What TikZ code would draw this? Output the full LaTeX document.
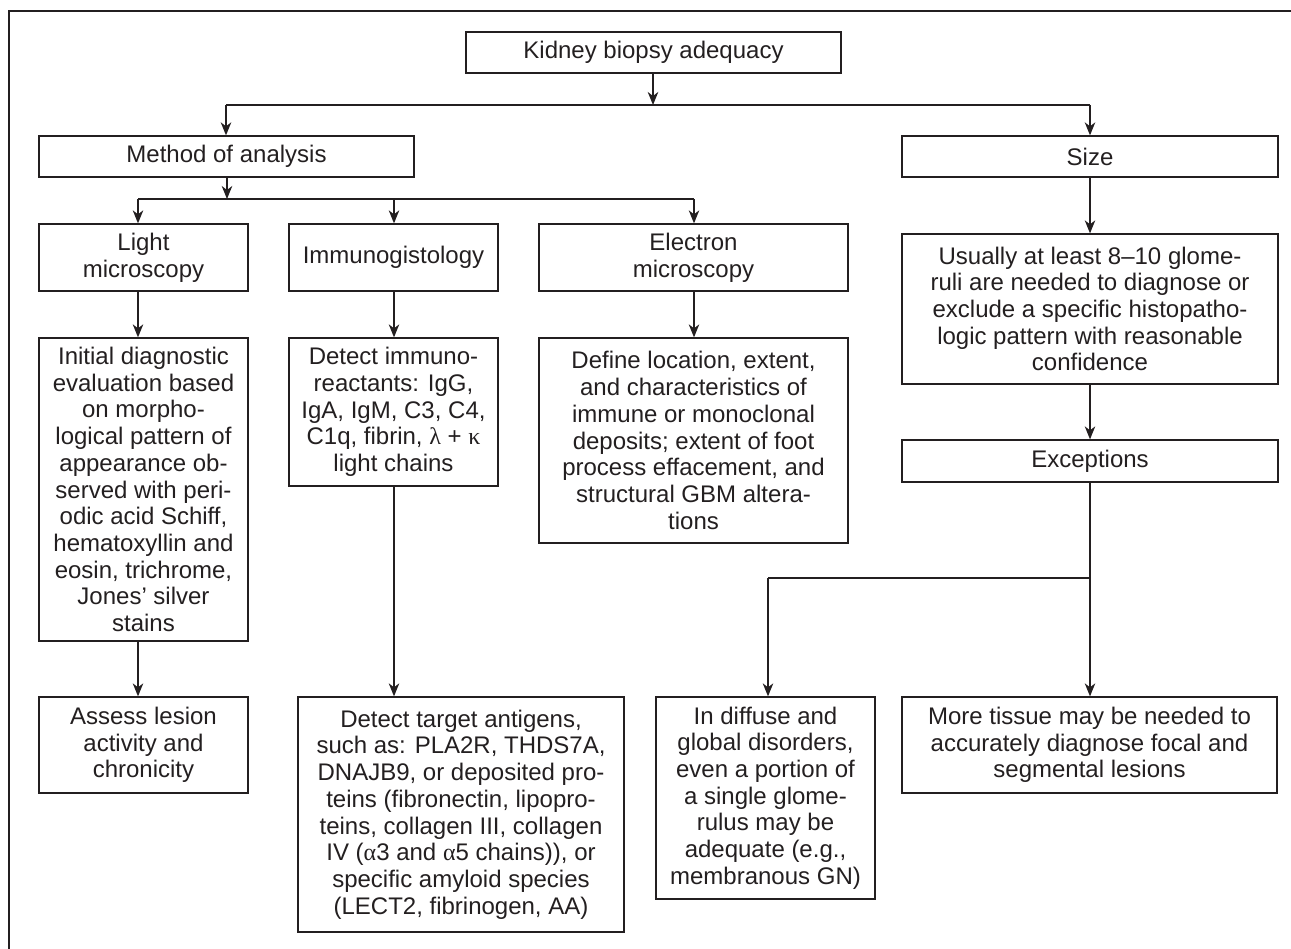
\documentclass[tikz,border=0pt]{standalone}
\usepackage{fontspec}
\setmainfont{Liberation Sans}
\newfontfamily\grk{Liberation Serif}
\usetikzlibrary{arrows.meta}
\definecolor{ink}{RGB}{35,31,32}
\begin{document}
\begin{tikzpicture}[x=1pt,y=-1pt,
  box/.style={draw=ink, line width=1.3pt, inner sep=0pt, align=center, text=ink,
    font=\fontsize{24}{26.7}\selectfont, anchor=center},
  conn/.style={draw=ink, line width=1.3pt},
  arr/.style={conn, -{Stealth[length=13pt,width=10.5pt,inset=4pt]}}]
\useasboundingbox (0,0) rectangle (1291,949);
% frame
\draw[conn] (9,949) -- (9,11) -- (1291,11);
% boxes
\node[box, minimum width=375pt, minimum height=41pt] (kid) at (653.5,52.5) {Kidney biopsy adequacy};
\node[box, minimum width=375pt, minimum height=41pt] (meth) at (226.5,156.5) {Method of analysis};
\node[box, minimum width=376pt, minimum height=41pt] (size) at (1090,156.5) {Size};
\node[box, minimum width=209pt, minimum height=67pt] (light) at (143.5,257.5) {Light\\microscopy};
\node[box, minimum width=209pt, minimum height=67pt] (immuno) at (393.5,257.5) {Immunogistology};
\node[box, minimum width=309pt, minimum height=67pt] (elec) at (693.5,257.5) {Electron\\microscopy};
\node[box, minimum width=376pt, minimum height=150pt] (usual) at (1090,309) {Usually at least 8–10 glome-\\ruli are needed to diagnose or\\exclude a specific histopatho-\\logic pattern with reasonable\\confidence};
\node[box, minimum width=209pt, minimum height=303pt] (init) at (143.5,489.5) {Initial diagnostic\\evaluation based\\on morpho-\\logical pattern of\\appearance ob-\\served with peri-\\odic acid Schiff,\\hematoxyllin and\\eosin, trichrome,\\Jones’ silver\\stains};
\node[box, minimum width=209pt, minimum height=148pt] (detimm) at (393.5,412) {Detect immuno-\\reactants: IgG,\\IgA, IgM, C3, C4,\\C1q, fibrin, {\grk λ} + {\grk κ}\\light chains};
\node[box, minimum width=309pt, minimum height=205pt] (define) at (693.5,440.5) {Define location, extent,\\and characteristics of\\immune or monoclonal\\deposits; extent of foot\\process effacement, and\\structural GBM altera-\\tions};
\node[box, minimum width=376pt, minimum height=42pt] (exc) at (1090,461) {Exceptions};
\node[box, minimum width=209pt, minimum height=96pt] (assess) at (143.5,745) {Assess lesion\\activity and\\chronicity};
\node[box, minimum width=326pt, minimum height=235pt] (target) at (461,814.5) {Detect target antigens,\\such as: PLA2R, THDS7A,\\DNAJB9, or deposited pro-\\teins (fibronectin, lipopro-\\teins, collagen III, collagen\\IV ({\grk α}3 and {\grk α}5 chains)), or\\specific amyloid species\\(LECT2, fibrinogen, AA)};
\node[box, minimum width=219pt, minimum height=202pt] (diff) at (765.5,798) {In diffuse and\\global disorders,\\even a portion of\\a single glome-\\rulus may be\\adequate (e.g.,\\membranous GN)};
\node[box, minimum width=375pt, minimum height=96pt] (more) at (1089.5,745) {More tissue may be needed to\\accurately diagnose focal and\\segmental lesions};
% junction coordinates
\coordinate (kb) at (653,105);
\coordinate (bl) at (226,105);
\coordinate (br) at (1090,105);
\coordinate (mb) at (227,199);
\coordinate (m1) at (138,199);
\coordinate (m2) at (394,199);
\coordinate (m3) at (694,199);
\coordinate (e1) at (1090,578);
\coordinate (e2) at (768,578);
% connectors
\draw[arr] (kid.south -| kb) -- (kb);
\draw[conn] (bl) -- (br);
\draw[arr] (bl) -- (meth.north -| bl);
\draw[arr] (br) -- (size.north -| br);
\draw[arr] (meth.south -| mb) -- (mb);
\draw[conn] (m1) -- (m3);
\draw[arr] (m1) -- (light.north -| m1);
\draw[arr] (m2) -- (immuno.north -| m2);
\draw[arr] (m3) -- (elec.north -| m3);
\draw[arr] (light.south -| m1) -- (init.north -| m1);
\draw[arr] (init.south -| m1) -- (assess.north -| m1);
\draw[arr] (immuno.south -| m2) -- (detimm.north -| m2);
\draw[arr] (detimm.south -| m2) -- (target.north -| m2);
\draw[arr] (elec.south -| m3) -- (define.north -| m3);
\draw[arr] (size.south) -- (usual.north);
\draw[arr] (usual.south) -- (exc.north);
\draw[conn] (exc.south) -- (e1) -- (e2);
\draw[arr] (e1) -- (more.north -| e1);
\draw[arr] (e2) -- (diff.north -| e2);
\end{tikzpicture}
\end{document}
